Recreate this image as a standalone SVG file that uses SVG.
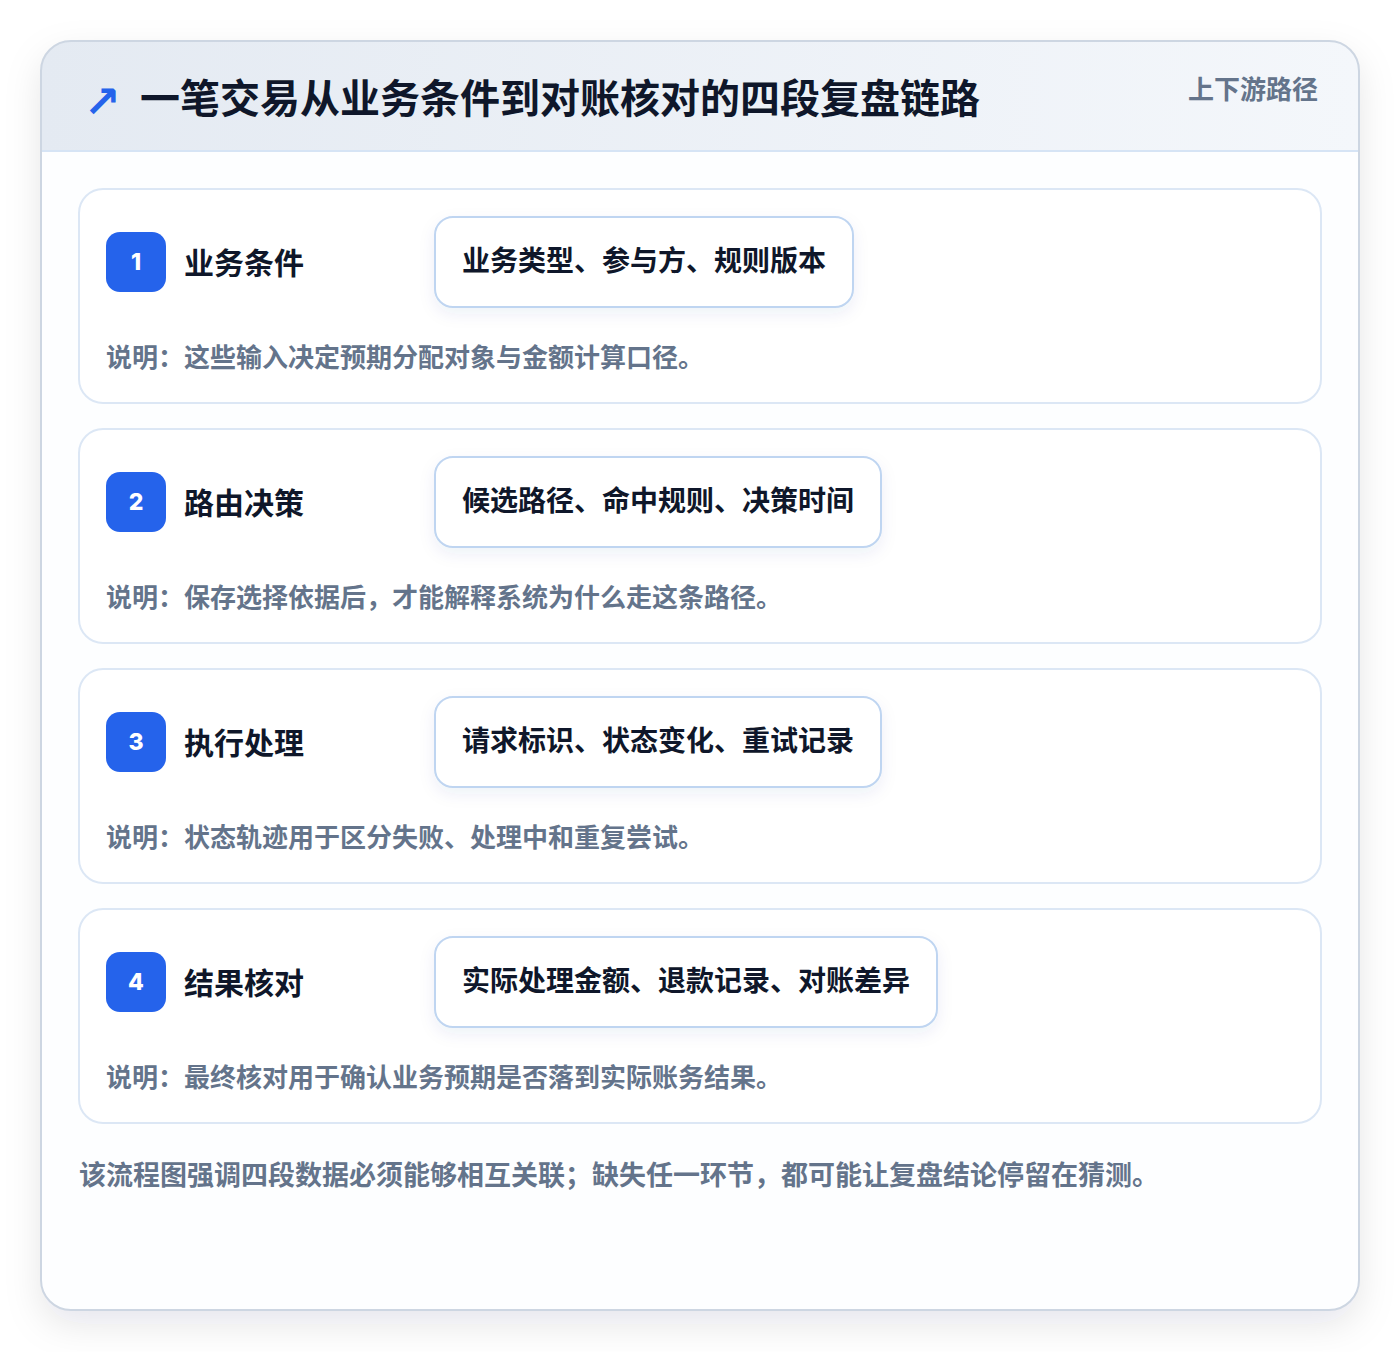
<svg xmlns="http://www.w3.org/2000/svg" width="1400" height="1352" viewBox="0 0 1400 1352">
<defs>
<linearGradient id="hdr" x1="0" y1="0" x2="1" y2="0">
<stop offset="0" stop-color="#e4eaf2"/>
<stop offset="1" stop-color="#f4f7fb"/>
</linearGradient>
<filter id="outerShadow" x="-10%" y="-10%" width="120%" height="120%">
<feDropShadow dx="0" dy="14" stdDeviation="18" flood-color="#0f172a" flood-opacity="0.10"/>
</filter>
<filter id="chipShadow" x="-10%" y="-20%" width="120%" height="150%">
<feDropShadow dx="0" dy="6" stdDeviation="8" flood-color="#1e3a8a" flood-opacity="0.07"/>
</filter>
<clipPath id="cardClip"><rect x="41" y="41" width="1318" height="1269" rx="30"/></clipPath>
<style>
.cjk{font-family:"Noto Sans CJK SC","Noto Sans",sans-serif;font-weight:700}
.title{font-size:40px;fill:#0f172a}
.meta{font-size:26px;fill:#64748b}
.step{fill:#ffffff;stroke:#dce7f5;stroke-width:2}
.badge{fill:#2563eb}
.num{font-family:Inter,"Liberation Sans",sans-serif;font-weight:800;font-size:23px;fill:#ffffff}
.stitle{font-size:30px;fill:#0f172a}
.chip{fill:#ffffff;stroke:#bfd5f1;stroke-width:2}
.chiptext{font-size:28px;fill:#0f172a}
.desc{font-size:26px;fill:#64748b}
.foot{font-size:27px;fill:#64748b}
</style>
</defs>
<rect x="0" y="0" width="1400" height="1352" fill="#ffffff"/>
<g id="card">
<rect x="41" y="41" width="1318" height="1269" rx="30" fill="#ffffff" filter="url(#outerShadow)"/>
<g clip-path="url(#cardClip)">
<rect x="41" y="41" width="1318" height="110" fill="url(#hdr)"/>
<rect x="41" y="151" width="1318" height="1159" fill="#fdfeff"/>
<line x1="41" y1="151" x2="1359" y2="151" stroke="#d6e4f5" stroke-width="2"/>
</g>
<rect x="41" y="41" width="1318" height="1269" rx="30" fill="none" stroke="#cdd6e2" stroke-width="2"/>
</g>
<g id="header">
<text x="84" y="117" font-family="'DejaVu Sans',sans-serif" font-weight="700" font-size="44" fill="#2563eb">↗</text>
<text class="cjk title" x="140" y="113">一笔交易从业务条件到对账核对的四段复盘链路</text>
<text class="cjk meta" x="1318" y="99" text-anchor="end">上下游路径</text>
</g>
<g id="step1">
<rect class="step" x="79" y="189" width="1242" height="214" rx="24"/>
<rect class="badge" x="106" y="232" width="60" height="60" rx="14"/>
<text class="num" x="136" y="270" text-anchor="middle">1</text>
<text class="cjk stitle" x="184" y="274">业务条件</text>
<rect class="chip" x="435" y="217" width="418" height="90" rx="18" filter="url(#chipShadow)"/>
<text class="cjk chiptext" x="462" y="271">业务类型、参与方、规则版本</text>
<text class="cjk desc" x="106" y="367">说明：这些输入决定预期分配对象与金额计算口径。</text>
</g>
<g id="step2">
<rect class="step" x="79" y="429" width="1242" height="214" rx="24"/>
<rect class="badge" x="106" y="472" width="60" height="60" rx="14"/>
<text class="num" x="136" y="510" text-anchor="middle">2</text>
<text class="cjk stitle" x="184" y="514">路由决策</text>
<rect class="chip" x="435" y="457" width="446" height="90" rx="18" filter="url(#chipShadow)"/>
<text class="cjk chiptext" x="462" y="511">候选路径、命中规则、决策时间</text>
<text class="cjk desc" x="106" y="607">说明：保存选择依据后，才能解释系统为什么走这条路径。</text>
</g>
<g id="step3">
<rect class="step" x="79" y="669" width="1242" height="214" rx="24"/>
<rect class="badge" x="106" y="712" width="60" height="60" rx="14"/>
<text class="num" x="136" y="750" text-anchor="middle">3</text>
<text class="cjk stitle" x="184" y="754">执行处理</text>
<rect class="chip" x="435" y="697" width="446" height="90" rx="18" filter="url(#chipShadow)"/>
<text class="cjk chiptext" x="462" y="751">请求标识、状态变化、重试记录</text>
<text class="cjk desc" x="106" y="847">说明：状态轨迹用于区分失败、处理中和重复尝试。</text>
</g>
<g id="step4">
<rect class="step" x="79" y="909" width="1242" height="214" rx="24"/>
<rect class="badge" x="106" y="952" width="60" height="60" rx="14"/>
<text class="num" x="136" y="990" text-anchor="middle">4</text>
<text class="cjk stitle" x="184" y="994">结果核对</text>
<rect class="chip" x="435" y="937" width="502" height="90" rx="18" filter="url(#chipShadow)"/>
<text class="cjk chiptext" x="462" y="991">实际处理金额、退款记录、对账差异</text>
<text class="cjk desc" x="106" y="1087">说明：最终核对用于确认业务预期是否落到实际账务结果。</text>
</g>
<g id="connectors"></g>
<g id="footer">
<text class="cjk foot" x="79" y="1185">该流程图强调四段数据必须能够相互关联；缺失任一环节，都可能让复盘结论停留在猜测。</text>
</g>
</svg>
